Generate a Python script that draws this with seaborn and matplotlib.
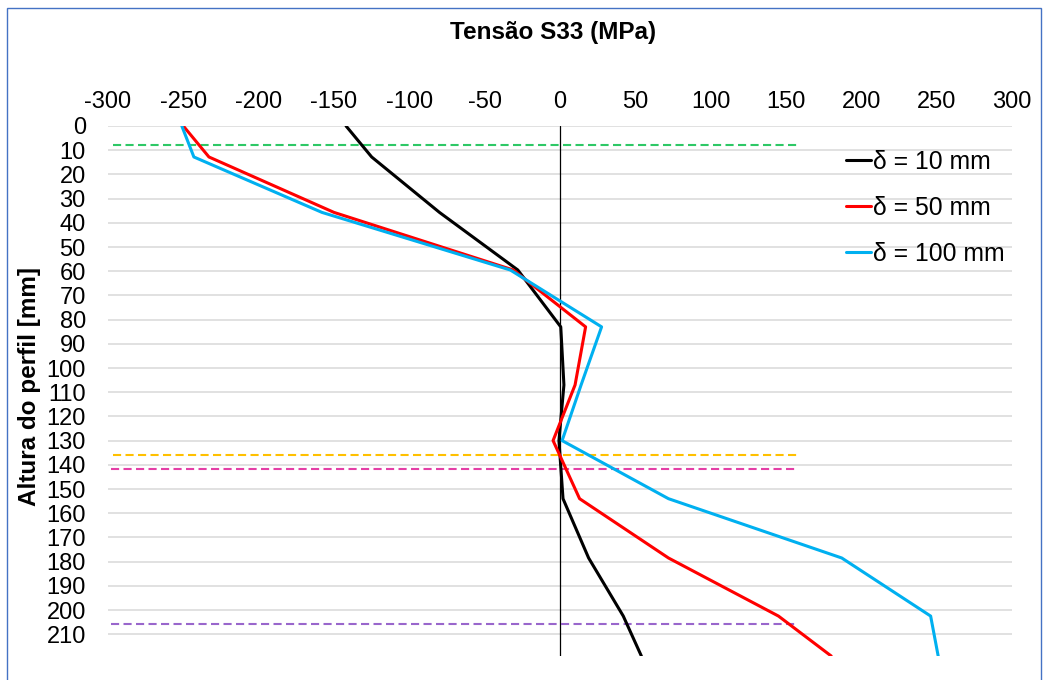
import matplotlib
matplotlib.use("Agg")
import matplotlib.pyplot as plt
import matplotlib.patches as mpatches
import numpy as np
import pandas as pd
import seaborn as sns

# Profile heights (mm) where S33 was sampled
altura = [0, 12.8, 35.7, 59.5, 83, 107, 130, 154, 178.5, 202.5, 219]

# S33 stress (MPa) for each imposed displacement
s33_d10 = [-142, -125, -80, -28, 0.5, 2.6, -0.7, 2, 19, 42, 54]
s33_d50 = [-250, -233, -150, -31, 17, 10, -4.6, 13, 72, 145, 180]
s33_d100 = [-251, -243, -158, -33, 27.6, 14, 1.4, 72, 187, 246, 251]

series_labels = ["δ = 10 mm", "δ = 50 mm", "δ = 100 mm"]
series_colors = ["#000000", "#FF0000", "#00B0F0"]

# Reference levels across the profile (mm) and their horizontal extent (MPa)
ref_levels = [7.7, 136.1, 141.9, 205.8]
ref_x_start = [-297, -296.5, -298, -298]
ref_x_end = [157, 159, 156.3, 156]
ref_colors = ["#2EC866", "#FFC000", "#E43FA6", "#9966CC"]

x_ticks = list(range(-300, 301, 50))
y_ticks = list(range(0, 211, 10))

frames = []
for lab, vals in zip(series_labels, [s33_d10, s33_d50, s33_d100]):
    frames.append(pd.DataFrame({"S33": vals, "Altura": altura, "Caso": lab}))
df = pd.concat(frames, ignore_index=True)

sns.set_theme(style="white")
plt.rcParams["font.family"] = ["Liberation Sans", "DejaVu Sans"]
plt.rcParams["text.color"] = "black"

W, H = 1043, 680
fig = plt.figure(figsize=(W / 100, H / 100), dpi=100)
ax = fig.add_axes([108 / W, 24 / H, 904 / W, 530 / H])

# Horizontal gridlines
for yv in y_ticks:
    ax.axhline(yv, color="#D9D9D9", lw=1.1, zorder=0)

# Vertical axis through zero stress
ax.axvline(0, color="black", lw=0.9, zorder=1)

# Dashed reference levels
for lvl, xs, xe, c in zip(ref_levels, ref_x_start, ref_x_end, ref_colors):
    ax.hlines(lvl, xs, xe, colors=c, lw=1.5, linestyles=(0, (3.9, 2.1)), zorder=2)

sns.lineplot(data=df, x="S33", y="Altura", hue="Caso", palette=series_colors,
             sort=False, estimator=None, lw=2.2, ax=ax, zorder=3)

ax.set_xlim(-300, 300)
ax.set_ylim(219, 0)
ax.set_xticks(x_ticks)
ax.set_yticks(y_ticks)
ax.set_xticklabels([str(v) for v in x_ticks])
ax.set_yticklabels([str(v) for v in y_ticks])
ax.xaxis.tick_top()
ax.tick_params(axis="x", length=0, pad=9, labelsize=17, colors="black")
ax.tick_params(axis="y", length=0, pad=16, labelsize=17, colors="black")
ax.set_xlabel("")
ax.set_ylabel("")
ax.grid(False)
for sp in ax.spines.values():
    sp.set_visible(False)

leg = ax.legend(loc="upper left", bbox_to_anchor=(846 / W, 1 - 150 / H),
                bbox_transform=fig.transFigure, frameon=False, fontsize=17.8,
                handlelength=1.0, handletextpad=0.1, labelspacing=0.89,
                borderpad=0, borderaxespad=0)
for line in leg.get_lines():
    line.set_linewidth(2.2)
for t in leg.get_texts():
    t.set_color("black")

fig.text(553 / W, 1 - 33 / H, "Tensão S33 (MPa)", ha="center", va="center",
         fontsize=17.5, fontweight="bold", color="black")
fig.text(30 / W, 1 - 386 / H, "Altura do perfil [mm]", ha="center", va="center",
         rotation=90, fontsize=17.5, fontweight="bold", color="black")

# Chart-area frame
fig.patches.append(mpatches.Rectangle((7 / W, -0.05), (1041 - 7) / W, 1.05 - 8 / H,
                                      transform=fig.transFigure, fill=False,
                                      edgecolor="#4472C4", lw=1.0))

fig.savefig("out.png", dpi=100)
